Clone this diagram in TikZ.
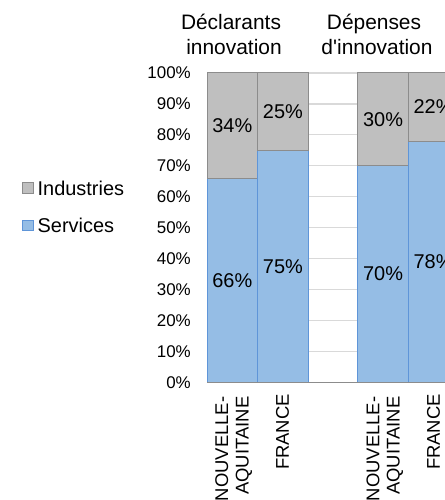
\documentclass[tikz,border=0pt]{standalone}
\usepackage{fontspec}
\setmainfont{Liberation Sans}
\definecolor{svc}{HTML}{95BDE5}
\definecolor{svcb}{HTML}{5F95D8}
\definecolor{ind}{HTML}{BFBFBF}
\definecolor{indb}{HTML}{8C8C8C}
\definecolor{grid}{HTML}{D9D9D9}
\definecolor{axis}{HTML}{8C8C8C}
\tikzset{
  svcbar/.style={fill=svc,draw=svcb,line width=1bp},
  indbar/.style={fill=ind,draw=indb,line width=1bp},
  ylab/.style={anchor=east,inner sep=0pt,font=\fontsize{17}{20}\selectfont},
  vlab/.style={inner sep=0pt,font=\fontsize{20}{24}\selectfont},
  ttl/.style={anchor=base,inner sep=0pt,font=\fontsize{21}{25}\selectfont},
  cat/.style={rotate=90,anchor=east,inner sep=0pt,font=\fontsize{18.5}{22}\selectfont},
  leg/.style={anchor=west,inner sep=0pt,font=\fontsize{20}{24}\selectfont},
}
\begin{document}
\begin{tikzpicture}[x=1bp,y=-1bp]
\useasboundingbox (0,0) rectangle (445,500);
\clip (0,0) rectangle (445,500);
\fill[white] (0,0) rectangle (445,500);
\def\yz{382.3}
\def\sc{3.093}
% gridlines and y labels
\foreach \p in {0,10,...,100}{
  \draw[grid,line width=1.2bp] (207,{\yz-\sc*\p}) -- (460,{\yz-\sc*\p});
  \node[ylab] (y\p) at (191,{\yz-\sc*\p}) {\p\%};
}
% bars: left, right, services %
\foreach \i/\l/\r/\s/\ilab/\slab in {1/207/257.6/66/34/66, 2/257.6/308.2/75/25/75, 3/357.8/408.3/70/30/70, 4/408.3/458.8/78/22/78}{
  \draw[svcbar] (\l,\yz) rectangle (\r,{\yz-\sc*\s});
  \draw[indbar] (\l,{\yz-\sc*\s}) rectangle (\r,{\yz-\sc*100});
  \node[vlab] (s\i) at ({(\l+\r)/2},{\yz-\sc*\s/2}) {\slab\%};
  \node[vlab] (n\i) at ({(\l+\r)/2},{\yz-\sc*(100+\s)/2}) {\ilab\%};
}
% axis line
\draw[axis,line width=1.5bp] (207,\yz) -- (460,\yz);
% titles
\node[ttl] (t1a) at (231,30) {Déclarants};
\node[ttl] (t1b) at (234,55) {innovation};
\node[ttl] (t2a) at (374,30) {Dépenses};
\node[ttl] (t2b) at (377,55) {d\textquotesingle innovation};
% category labels
\node[cat] (c1a) at (221.7,396.5) {NOUVELLE-};
\node[cat] (c1b) at (244,396.5) {AQUITAINE};
\node[cat] (c2) at (282.5,394) {FRANCE};
\node[cat] (c3a) at (373,396.5) {NOUVELLE-};
\node[cat] (c3b) at (395,396.5) {AQUITAINE};
\node[cat] (c4) at (433.5,394) {FRANCE};
% legend
\draw[indbar,line width=0.8bp] (22.7,182.7) rectangle (33.3,193.3);
\node[leg] (li) at (37.5,188) {Industries};
\draw[svcbar,line width=0.8bp] (22.7,220) rectangle (33.3,230.6);
\node[leg] (ls) at (37.5,225.3) {Services};
\end{tikzpicture}
\end{document}
